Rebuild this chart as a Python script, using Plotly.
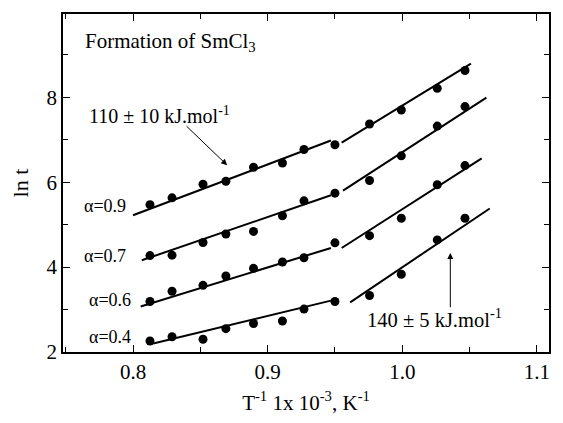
import plotly.graph_objects as go

# ---- data ----
x_pts = [0.8126, 0.829, 0.852, 0.869, 0.8895, 0.911, 0.927, 0.950, 0.9757, 0.9993, 1.026, 1.0466]
lnt_a09 = [5.47, 5.63, 5.95, 6.02, 6.35, 6.45, 6.77, 6.88, 7.37, 7.70, 8.21, 8.63]
lnt_a07 = [4.27, 4.28, 4.58, 4.78, 4.84, 5.21, 5.56, 5.74, 6.04, 6.62, 7.32, 7.78]
lnt_a06 = [3.19, 3.43, 3.57, 3.79, 3.97, 4.12, 4.22, 4.57, 4.74, 5.15, 5.94, 6.39]
lnt_a04 = [2.26, 2.36, 2.30, 2.55, 2.67, 2.73, 3.01, 3.19, 3.33, 3.83, 4.64, 5.15]

# fitted line segments: (x_start, x_end), (y_start, y_end)
fit_low_x = {"0.9": [0.800, 0.947], "0.7": [0.8065, 0.947], "0.6": [0.8057, 0.947], "0.4": [0.815, 0.947]}
fit_low_y = {"0.9": [5.22, 6.98], "0.7": [4.16, 5.69], "0.6": [3.07, 4.45], "0.4": [2.20, 3.21]}
fit_high_x = {"0.9": [0.955, 1.051], "0.7": [0.956, 1.0625], "0.6": [0.955, 1.059], "0.4": [0.9613, 1.065]}
fit_high_y = {"0.9": [6.93, 8.79], "0.7": [5.80, 7.99], "0.6": [4.45, 6.56], "0.4": [3.17, 5.38]}

series = {"0.9": lnt_a09, "0.7": lnt_a07, "0.6": lnt_a06, "0.4": lnt_a04}
label_y = {"0.9": 5.45, "0.7": 4.25, "0.6": 3.22, "0.4": 2.36}

x_ticks = [0.8, 0.9, 1.0, 1.1]
y_ticks = [2, 4, 6, 8]

FONT = "Liberation Serif"

fig = go.Figure()
for k, ys in series.items():
    for fx, fy in ((fit_low_x[k], fit_low_y[k]), (fit_high_x[k], fit_high_y[k])):
        fig.add_trace(go.Scatter(x=fx, y=fy, mode="lines",
                                 line=dict(color="black", width=2),
                                 showlegend=False, hoverinfo="skip"))
    fig.add_trace(go.Scatter(x=x_pts, y=ys, mode="markers",
                             marker=dict(color="black", size=9),
                             showlegend=False))

annotations = []
for k in series:
    annotations.append(dict(x=0.800 if k in ("0.6", "0.4") else 0.7965, y=label_y[k],
                            xref="x", yref="y", text="α=" + k, showarrow=False,
                            xanchor="right", yanchor="middle",
                            font=dict(family=FONT, size=18, color="black")))

annotations.append(dict(x=0.7628, y=9.30, xref="x", yref="y",
                        text="Formation of SmCl<sub>3</sub>", showarrow=False,
                        xanchor="left", yanchor="middle",
                        font=dict(family=FONT, size=21, color="black")))
annotations.append(dict(x=0.766, y=7.58, xref="x", yref="y",
                        text="110 ± 10 kJ.mol<sup>-1</sup>", showarrow=False,
                        xanchor="left", yanchor="middle",
                        font=dict(family=FONT, size=20, color="black")))
annotations.append(dict(x=0.972, y=2.79, xref="x", yref="y",
                        text="140 ± 5 kJ.mol<sup>-1</sup>", showarrow=False,
                        xanchor="left", yanchor="middle",
                        font=dict(family=FONT, size=20.5, color="black")))
# arrows
annotations.append(dict(x=0.8699, y=6.40, ax=0.8387, ay=7.35, xref="x", yref="y",
                        axref="x", ayref="y", text="", showarrow=True,
                        arrowhead=2, arrowsize=1.2, arrowwidth=1, arrowcolor="black"))
annotations.append(dict(x=1.0357, y=4.33, ax=1.0357, ay=3.02, xref="x", yref="y",
                        axref="x", ayref="y", text="", showarrow=True,
                        arrowhead=2, arrowsize=1.2, arrowwidth=1, arrowcolor="black"))

axis_common = dict(showline=True, linecolor="black", linewidth=1.5, mirror="ticks",
                   ticks="inside", ticklen=7, tickwidth=1.2, tickcolor="black",
                   showgrid=False, zeroline=False,
                   tickfont=dict(family=FONT, size=21, color="black"))

fig.update_layout(
    width=563, height=423,
    margin=dict(l=63, r=14, t=13, b=66),
    paper_bgcolor="white", plot_bgcolor="white",
    font=dict(family=FONT, color="black"),
    annotations=annotations,
    xaxis=dict(range=[0.748, 1.109], tickvals=x_ticks, ticktext=["0.8", "0.9", "1.0", "1.1"],
               minor=dict(dtick=0.05, tick0=0.75, ticks="inside", ticklen=5, tickcolor="black"),
               title=dict(text="T<sup>-1</sup> 1x 10<sup>-3</sup>, K<sup>-1</sup>",
                          font=dict(family=FONT, size=21, color="black"), standoff=12),
               **axis_common),
    yaxis=dict(range=[2, 9.96], tickvals=y_ticks,
               minor=dict(dtick=1, tick0=1, ticks="inside", ticklen=5, tickcolor="black"),
               title=dict(text="ln t", font=dict(family=FONT, size=22, color="black"), standoff=12),
               **axis_common),
)

fig.write_html("out.html")
